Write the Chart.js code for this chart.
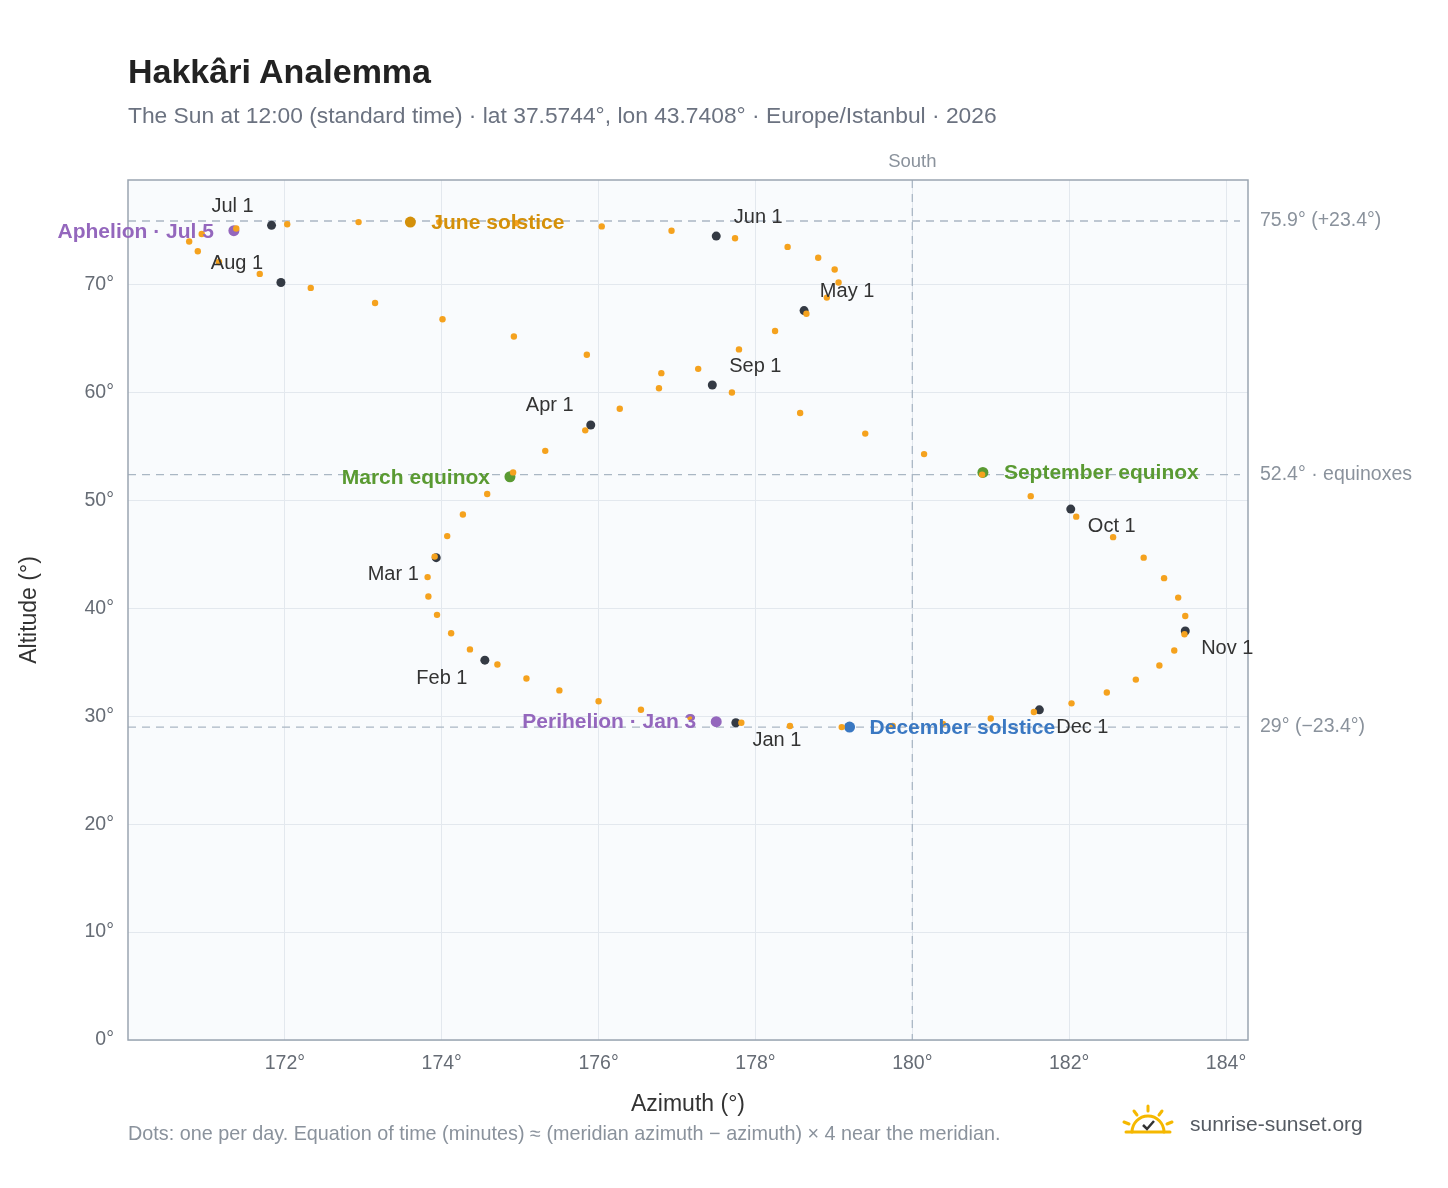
<!DOCTYPE html>
<html><head><meta charset="utf-8">
<script src="https://cdn.jsdelivr.net/npm/chart.js@4/dist/chart.umd.min.js"></script>
<style>
body{margin:0;background:#fff;font-family:"Liberation Sans",Arial,sans-serif;}
#wrap{position:relative;width:1448px;height:1188px;}
canvas{position:absolute;left:0;top:0;}
.t{position:absolute;white-space:nowrap;}
</style></head><body>
<div id="wrap">
<canvas id="c" width="1448" height="1188"></canvas>
<div class="t" style="left:128px;top:52px;font-size:34px;font-weight:bold;color:#222;">Hakkâri Analemma</div>
<div class="t" style="left:128px;top:102px;font-size:22.8px;color:#6b7280;">The Sun at 12:00 (standard time) · lat 37.5744°, lon 43.7408° · Europe/Istanbul · 2026</div>
<div class="t" style="left:128px;top:1122px;font-size:19.8px;color:#8a929c;">Dots: one per day. Equation of time (minutes) ≈ (meridian azimuth − azimuth) × 4 near the meridian.</div>
<div class="t" style="left:1120px;top:1102px;">
<svg width="56" height="36" viewBox="0 0 56 36"><g stroke="#f5b800" stroke-width="3" fill="none" stroke-linecap="round">
<path d="M12 30 A16 16 0 0 1 44 30"/><line x1="28" y1="4" x2="28" y2="9"/><line x1="14" y1="9" x2="17" y2="13"/><line x1="42" y1="9" x2="39" y2="13"/><line x1="4" y1="20" x2="9" y2="22"/><line x1="52" y1="20" x2="47" y2="22"/><line x1="6" y1="30" x2="50" y2="30"/></g>
<path d="M23 23 L27 27 L34 19" stroke="#333" stroke-width="2.5" fill="none"/></svg></div>
<div class="t" style="left:1190px;top:1112px;font-size:21px;color:#555b63;">sunrise-sunset.org</div>
</div>
<script>
// Sun at 12:00 local standard time, sampled every 5 days (Jan 1, Jan 6, ... Dec 27)
const sampleAz = [177.82,177.17,176.54,176.00,175.50,175.08,174.71,174.36,174.12,173.94,173.83,173.82,173.91,174.07,174.27,174.58,174.91,175.32,175.83,176.27,176.77,177.27,177.79,178.25,178.65,178.91,179.06,179.01,178.80,178.41,177.74,176.93,176.04,174.95,173.97,172.94,172.03,171.38,170.94,170.78,170.89,171.16,171.68,172.33,173.15,174.01,174.92,175.85,176.80,177.70,178.57,179.40,180.15,180.89,181.51,182.09,182.56,182.95,183.21,183.39,183.48,183.47,183.34,183.15,182.85,182.48,182.03,181.55,181.00,180.39,179.75,179.10,178.44];
const sampleAlt = [29.4,29.9,30.6,31.4,32.4,33.5,34.8,36.2,37.7,39.4,41.1,42.9,44.8,46.7,48.7,50.6,52.6,54.6,56.5,58.5,60.4,62.2,64.0,65.7,67.3,68.8,70.2,71.4,72.5,73.5,74.3,75.0,75.4,75.7,75.8,75.8,75.6,75.2,74.7,74.0,73.1,72.1,71.0,69.7,68.3,66.8,65.2,63.5,61.8,60.0,58.1,56.2,54.3,52.4,50.4,48.5,46.6,44.7,42.8,41.0,39.3,37.6,36.1,34.7,33.4,32.2,31.2,30.4,29.8,29.3,29.1,29.0,29.1];
const monthNames = ["Jan 1","Feb 1","Mar 1","Apr 1","May 1","Jun 1","Jul 1","Aug 1","Sep 1","Oct 1","Nov 1","Dec 1"];
const monthAz = [177.75,174.55,173.93,175.90,178.62,177.50,171.83,171.95,177.45,182.02,183.48,181.62];
const monthAlt = [29.4,35.2,44.7,57.0,67.6,74.5,75.5,70.2,60.7,49.2,37.9,30.6];
const eventNames = ["March equinox","June solstice","September equinox","December solstice","Perihelion · Jan 3","Aphelion · Jul 5"];
const eventAz = [174.87,173.60,180.90,179.20,177.50,171.35];
const eventAlt = [52.2,75.8,52.6,29.0,29.5,75.0];
const eventColors = ["#5a9a32","#d4900a","#5a9a32","#3a78c2","#9467bd","#9467bd"];
const refAlt = [75.9,52.4,29.0];
const refLabels = ["75.9° (+23.4°)","52.4° · equinoxes","29° (−23.4°)"];
const southAz = 180;
const xTicks = [172,174,176,178,180,182,184];

// label placement (px offsets)
const monthOff = [[41,18],[-43,18],[-43,17],[-41,-19],[43,-19],[42,-19],[-39,-19],[-44,-19],[43,-19],[41,17],[42,17],[43,18]];
const eventOff = [[-20,'right'],[21,'left'],[21,'left'],[20,'left'],[-20,'right'],[-20,'right']];

const FONT='"Liberation Sans"';
const pts=(a,b)=>a.map((v,i)=>({x:v,y:b[i]}));
const plug={id:'deco',
 beforeDraw(c){const a=c.chartArea,x=c.ctx;x.save();x.fillStyle='#f9fbfd';x.fillRect(a.left,a.top,a.right-a.left,a.bottom-a.top);x.restore();},
 beforeDatasetsDraw(c){const a=c.chartArea,x=c.ctx,sx=c.scales.x,sy=c.scales.y;x.save();
  x.strokeStyle='#aab7c4';x.lineWidth=1.3;x.setLineDash([8,6]);
  refAlt.forEach((v,i)=>{const y=sy.getPixelForValue(v);x.beginPath();x.moveTo(a.left,y);x.lineTo(a.right-8,y);x.stroke();
   x.fillStyle='#8a929c';x.font='19.5px '+FONT;x.textBaseline='middle';x.fillText(refLabels[i],a.right+12,y);});
  const px=sx.getPixelForValue(southAz);x.beginPath();x.moveTo(px,a.top);x.lineTo(px,a.bottom);x.stroke();
  x.setLineDash([]);x.fillStyle='#8a929c';x.font='18.5px '+FONT;x.textAlign='center';x.textBaseline='alphabetic';x.fillText('South',px,a.top-13);
  x.strokeStyle='#9aa5b1';x.lineWidth=1.5;x.strokeRect(a.left,a.top,a.right-a.left,a.bottom-a.top);x.restore();},
 afterDatasetsDraw(c){const x=c.ctx,sx=c.scales.x,sy=c.scales.y;x.save();x.textBaseline='middle';
  x.font='20px '+FONT;x.fillStyle='#333';x.textAlign='center';
  monthNames.forEach((n,i)=>{x.fillText(n,sx.getPixelForValue(monthAz[i])+monthOff[i][0],sy.getPixelForValue(monthAlt[i])+monthOff[i][1]);});
  x.font='bold 21px '+FONT;
  eventNames.forEach((n,i)=>{x.fillStyle=eventColors[i];x.textAlign=eventOff[i][1];x.fillText(n,sx.getPixelForValue(eventAz[i])+eventOff[i][0],sy.getPixelForValue(eventAlt[i])+1);});
  x.restore();}};
new Chart(document.getElementById('c'),{type:'scatter',
 data:{datasets:[
  {data:pts(sampleAz,sampleAlt),backgroundColor:'#f5a21e',borderWidth:0,pointRadius:3.2},
  {data:pts(monthAz,monthAlt),backgroundColor:'#343a44',borderWidth:0,pointRadius:4.5},
  {data:pts(eventAz,eventAlt),backgroundColor:eventColors,borderWidth:0,pointRadius:5.5}]},
 options:{responsive:false,animation:false,devicePixelRatio:1,
  layout:{padding:{top:180,right:200,left:12,bottom:66}},
  plugins:{legend:{display:false},tooltip:{enabled:false}},
  scales:{
   x:{type:'linear',min:170,max:184.28,afterBuildTicks:s=>{s.ticks=xTicks.map(v=>({value:v}));},
    afterFit:s=>{s.height=82;},
    grid:{color:'#e3e8ee',drawTicks:false},border:{display:false},
    ticks:{padding:12,color:'#666c75',font:{size:19.5,family:'Liberation Sans'},callback:v=>v+'°'},
    title:{display:true,text:'Azimuth (°)',color:'#333',font:{size:23,family:'Liberation Sans'},padding:{top:4}}},
   y:{type:'linear',min:0,max:79.7,afterBuildTicks:s=>{s.ticks=[0,10,20,30,40,50,60,70].map(v=>({value:v}));},
    afterFit:s=>{s.width=116;},
    grid:{color:'#e3e8ee',drawTicks:false},border:{display:false},
    ticks:{padding:14,color:'#666c75',font:{size:19.5,family:'Liberation Sans'},callback:v=>v+'°'},
    title:{display:true,text:'Altitude (°)',color:'#333',font:{size:23,family:'Liberation Sans'}}}}},
 plugins:[plug]});
</script></body></html>
